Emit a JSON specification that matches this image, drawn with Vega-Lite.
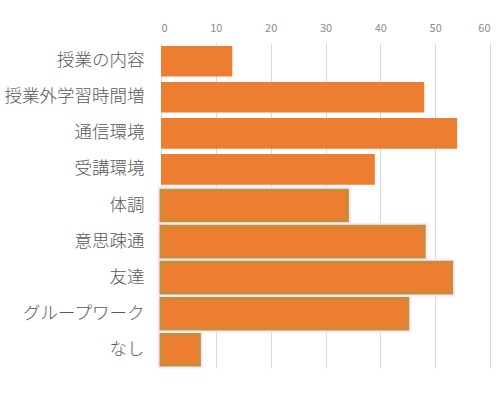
{
  "$schema": "https://vega.github.io/schema/vega-lite/v6.json",
  "autosize": {"type": "none"},
  "width": 329,
  "height": 325,
  "padding": {"left": 161, "top": 43, "right": 10, "bottom": 25},
  "background": "white",
  "config": {"view": {"stroke": null}, "font": "Noto Sans CJK JP"},
  "data": {
    "values": [
      {"category": "授業の内容", "value": 13},
      {"category": "授業外学習時間増", "value": 48},
      {"category": "通信環境", "value": 54},
      {"category": "受講環境", "value": 39},
      {"category": "体調", "value": 34},
      {"category": "意思疎通", "value": 48},
      {"category": "友達", "value": 53},
      {"category": "グループワーク", "value": 45},
      {"category": "なし", "value": 7}
    ]
  },
  "encoding": {
    "y": {
      "field": "category",
      "type": "nominal",
      "sort": null,
      "scale": {
        "domain": ["授業の内容", "授業外学習時間増", "通信環境", "受講環境", "体調", "意思疎通", "友達", "グループワーク", "なし"],
        "paddingInner": 0.15,
        "paddingOuter": 0.08
      },
      "axis": {
        "title": null,
        "domain": false,
        "ticks": false,
        "labelFontSize": 17.5,
        "labelFontWeight": 300,
        "labelColor": "#595959",
        "labelPadding": 17,
        "labelFont": "Noto Sans CJK JP"
      }
    },
    "x": {
      "field": "value",
      "type": "quantitative",
      "scale": {"domain": [0, 60]},
      "axis": {
        "orient": "top",
        "title": null,
        "values": [0, 10, 20, 30, 40, 50, 60],
        "domain": false,
        "ticks": false,
        "labelFontSize": 11,
        "labelColor": "#8c8c8c",
        "labelPadding": 10,
        "gridColor": "#d9d9d9",
        "gridWidth": 1
      }
    }
  },
  "layer": [
    {
      "mark": {"type": "bar", "color": "#fde6f7", "stroke": "#fde6f7", "strokeWidth": 7},
      "transform": [{"filter": "indexof(['体調','意思疎通','友達','グループワーク','なし'], datum.category) >= 0"}]
    },
    {
      "mark": {"type": "bar", "color": "#ED7D31"},
      "encoding": {
        "stroke": {
          "condition": {"test": "indexof(['体調','意思疎通','友達','グループワーク','なし'], datum.category) >= 0", "value": "#C1913A"},
          "value": null
        },
        "strokeWidth": {
          "condition": {"test": "indexof(['体調','意思疎通','友達','グループワーク','なし'], datum.category) >= 0", "value": 3},
          "value": 0
        }
      }
    }
  ]
}
